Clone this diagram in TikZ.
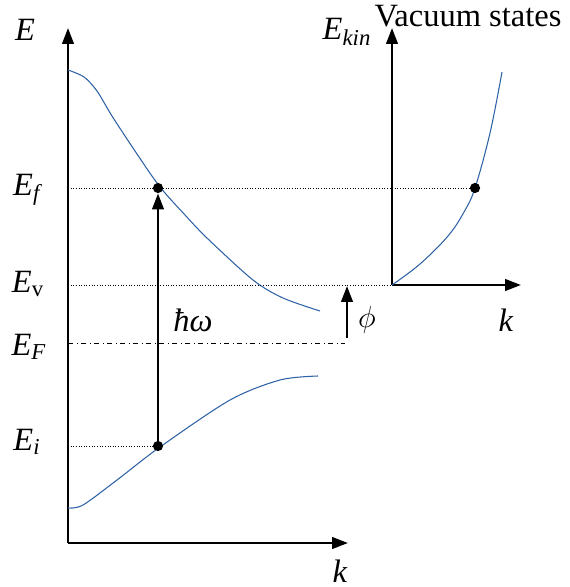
\documentclass[tikz,border=0pt]{standalone}
\usepackage{fontspec}
\setmainfont{Liberation Serif}
\usepackage{tikz}
\usetikzlibrary{arrows.meta}
\definecolor{bandblue}{RGB}{46,98,166}

\begin{document}
\begin{tikzpicture}[x=0.02cm,y=-0.02cm,
  axis/.style={line width=1.4pt,-{Triangle[length=9pt,width=6.5pt]}},
  band/.style={bandblue,line width=0.6pt},
  level/.style={densely dotted,line width=0.5pt},
  dotpt/.style={circle,fill,inner sep=0pt,minimum size=5.8pt},
  lbl/.style={font=\fontsize{18.5}{20}\selectfont,inner sep=0pt}]
\useasboundingbox (0,0) rectangle (569,587);

% axes
\coordinate (o) at (68,543);
\coordinate (etop) at (68,28);
\coordinate (kend) at (348,543);
\coordinate (vo) at (392,285);
\coordinate (ektop) at (392,28);
\coordinate (krend) at (521,285);
\draw[axis] (o) -- (etop);
\draw[axis] (o) -- (kend);
\draw[axis] (vo) -- (ektop);
\draw[axis] (vo) -- (krend);

% labels
\node[lbl] (lE) at (25,30) {\textit{E}};
\node[lbl] (lEf) at (28,190) {\textit{E}\textsubscript{\textit{f}}};
\node[lbl] (lEv) at (28,284) {\textit{E}\textsubscript{v}};
\node[lbl] (lEF) at (29,347) {\textit{E}\textsubscript{\textit{F}}};
\node[lbl] (lEi) at (27,442) {\textit{E}\textsubscript{\textit{i}}};
\node[lbl] (lk) at (340,571) {\textit{k}};
\node[lbl] (lEkin) at (347,32) {\textit{E}\textsubscript{\textit{kin}}};
\node[lbl] (lvac) at (468,16) {Vacuum states};
\node[lbl] (lkr) at (506,320) {\textit{k}};
\node[lbl] (lhw) at (193,320) {\textit{ħω}};
\node[lbl] (lphi) at (367,320) {$\phi$};

% bands
\draw[band] plot[smooth,tension=0.5] coordinates
  {(68,70) (84,77) (97,91) (112,116) (137,154) (160,187) (185,215) (208,239) (253,280) (283,298) (320,311)};
\draw[band] plot[smooth,tension=0.5] coordinates
  {(68,508) (83,505) (117,480) (160,447) (230,400) (280,380) (318,376)};
\draw[band] plot[smooth,tension=0.6] coordinates
  {(392,285) (420,264) (448,236) (464,212) (475,188) (490,133) (502,72)};

% states
\node[dotpt] (fdot) at (158,188) {};
\node[dotpt] (idot) at (158,446) {};
\node[dotpt] (vdot) at (475,188) {};

% levels
\draw[level] (o|-fdot) -- (vdot);
\draw[level] (o|-vo) -- (vo);
\draw[dash dot,line width=0.5pt] (68,343) -- (345,343);
\draw[level] (o|-idot) -- (idot);

% transitions
\draw[axis] (idot) -- (fdot);
\coordinate (phib) at (347,338);
\coordinate (phit) at (347,286);
\draw[axis] (phib) -- (phit);
\end{tikzpicture}
\end{document}
